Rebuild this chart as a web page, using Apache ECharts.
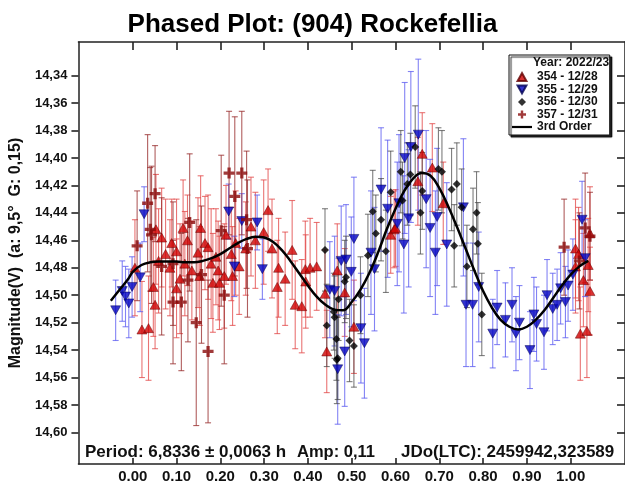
<!DOCTYPE html>
<html><head><meta charset="utf-8">
<script src="https://cdn.jsdelivr.net/npm/echarts@6/dist/echarts.min.js"></script>
<style>html,body{margin:0;padding:0;background:#fff}#c{width:625px;height:484px}</style>
</head><body><div id="c"></div>
<script>
// ---- data ----
const xTicks = [0,0.1,0.2,0.3,0.4,0.5,0.6,0.7,0.8,0.9,1.0];
const yTicks = [14.34,14.36,14.38,14.40,14.42,14.44,14.46,14.48,14.50,14.52,14.54,14.56,14.58,14.60];

const p354 = [0.005,0.021,0.036,0.047,0.051,0.053,0.059,0.066,0.075,0.085,0.089,0.100,0.100,0.108,0.115,0.119,0.125,0.135,0.149,0.153,0.155,0.165,0.172,0.179,0.183,0.190,0.195,0.198,0.209,0.213,0.225,0.228,0.235,0.243,0.258,0.270,0.280,0.299,0.309,0.318,0.330,0.333,0.348,0.364,0.371,0.386,0.394,0.395,0.405,0.420,0.439,0.443,0.467,0.484,0.505,0.589,0.597,0.600,0.651,0.661,0.684,0.709,1.011,1.011,1.018,1.022,1.029,1.037,1.040,1.044,1.044];
const m354 = [14.480,14.525,14.524,14.494,14.507,14.452,14.475,14.458,14.470,14.480,14.462,14.468,14.495,14.488,14.451,14.477,14.460,14.482,14.469,14.486,14.451,14.462,14.465,14.477,14.491,14.472,14.482,14.491,14.486,14.456,14.470,14.486,14.462,14.479,14.466,14.450,14.460,14.454,14.438,14.466,14.494,14.480,14.488,14.467,14.507,14.508,14.481,14.490,14.480,14.479,14.499,14.541,14.482,14.498,14.523,14.456,14.452,14.451,14.417,14.397,14.407,14.433,14.479,14.466,14.470,14.528,14.489,14.526,14.478,14.497,14.455];
const e354 = [0.035,0.035,0.038,0.036,0.032,0.040,0.038,0.036,0.040,0.035,0.032,0.038,0.036,0.040,0.035,0.038,0.033,0.036,0.040,0.036,0.038,0.034,0.038,0.040,0.036,0.035,0.036,0.034,0.038,0.036,0.034,0.036,0.038,0.035,0.034,0.036,0.035,0.038,0.030,0.036,0.034,0.036,0.034,0.036,0.032,0.034,0.035,0.034,0.036,0.032,0.032,0.030,0.034,0.032,0.034,0.028,0.028,0.028,0.032,0.030,0.032,0.030,0.034,0.036,0.034,0.034,0.034,0.034,0.034,0.032,0.034];

const p355 = [-0.039,-0.024,-0.0165,-0.009,-0.0015,0.017,0.026,0.219,0.232,0.249,0.284,0.296,0.450,0.461,0.468,0.476,0.484,0.487,0.499,0.505,0.521,0.529,0.544,0.552,0.567,0.582,0.604,0.608,0.619,0.621,0.630,0.635,0.652,0.670,0.679,0.691,0.695,0.717,0.755,0.761,0.776,0.790,0.822,0.832,0.851,0.866,0.875,0.883,0.907,0.916,0.922,0.939,0.946,0.959,0.969,0.977,0.988,0.994,1.005,1.026,1.033];
const m355 = [14.511,14.497,14.501,14.506,14.494,14.487,14.441,14.439,14.479,14.446,14.447,14.481,14.496,14.497,14.554,14.475,14.541,14.474,14.483,14.459,14.524,14.535,14.469,14.481,14.423,14.437,14.448,14.433,14.463,14.400,14.444,14.392,14.383,14.430,14.451,14.469,14.443,14.463,14.436,14.507,14.507,14.494,14.528,14.509,14.518,14.507,14.528,14.520,14.540,14.514,14.521,14.527,14.500,14.510,14.507,14.495,14.505,14.493,14.485,14.445,14.473];
const e355 = [0.022,0.022,0.022,0.025,0.022,0.025,0.020,0.020,0.022,0.020,0.020,0.022,0.035,0.040,0.040,0.040,0.040,0.040,0.040,0.045,0.040,0.040,0.045,0.045,0.045,0.050,0.045,0.050,0.050,0.055,0.050,0.055,0.055,0.050,0.050,0.045,0.050,0.045,0.050,0.045,0.045,0.040,0.025,0.027,0.027,0.027,0.027,0.027,0.028,0.027,0.027,0.027,0.026,0.026,0.026,0.026,0.026,0.026,0.026,0.028,0.028];

const p356 = [0.439,0.443,0.459,0.461,0.465,0.466,0.468,0.470,0.484,0.487,0.495,0.505,0.520,0.537,0.548,0.555,0.567,0.578,0.589,0.612,0.616,0.627,0.634,0.645,0.657,0.661,0.698,0.706,0.728,0.734,0.740,0.751,0.763,0.777,0.785,0.788,0.797];
const m356 = [14.467,14.522,14.512,14.516,14.532,14.547,14.546,14.503,14.490,14.487,14.533,14.537,14.500,14.471,14.439,14.455,14.445,14.468,14.425,14.410,14.431,14.419,14.412,14.392,14.440,14.424,14.408,14.410,14.423,14.464,14.419,14.436,14.479,14.452,14.440,14.4625,14.514];
const e356 = [0.030,0.030,0.028,0.030,0.030,0.032,0.030,0.030,0.030,0.030,0.030,0.030,0.028,0.030,0.030,0.028,0.030,0.030,0.030,0.030,0.028,0.030,0.030,0.030,0.030,0.028,0.030,0.030,0.030,0.030,0.030,0.028,0.030,0.030,0.030,0.030,0.030];

const p357 = [0.010,0.034,0.040,0.043,0.051,0.066,0.092,0.092,0.111,0.126,0.130,0.145,0.157,0.172,0.202,0.209,0.220,0.233,0.249,0.260,0.262,0.985,1.020,1.033,1.044];
const m357 = [14.464,14.433,14.452,14.456,14.426,14.479,14.477,14.505,14.505,14.489,14.447,14.520,14.485,14.541,14.453,14.500,14.411,14.428,14.411,14.445,14.466,14.465,14.475,14.451,14.457];
const e357 = [0.040,0.050,0.045,0.050,0.035,0.050,0.045,0.045,0.050,0.045,0.050,0.075,0.050,0.052,0.055,0.050,0.045,0.058,0.045,0.050,0.050,0.035,0.035,0.040,0.032];

const fitPhase = [-0.05,-0.03,-0.01,0.00,0.02,0.04,0.06,0.08,0.10,0.12,0.14,0.16,0.18,0.20,0.22,0.24,0.26,0.28,0.30,0.32,0.34,0.36,0.38,0.40,0.42,0.44,0.46,0.48,0.50,0.52,0.54,0.56,0.58,0.60,0.62,0.64,0.66,0.68,0.70,0.72,0.74,0.76,0.78,0.80,0.82,0.84,0.86,0.88,0.90,0.92,0.94,0.96,0.98,1.00,1.02,1.04];
const fitMag = [14.504,14.496,14.488,14.483,14.478,14.476,14.4755,14.4755,14.4755,14.476,14.476,14.475,14.473,14.470,14.466,14.462,14.459,14.4575,14.458,14.461,14.467,14.475,14.484,14.493,14.501,14.507,14.5105,14.511,14.505,14.496,14.484,14.469,14.452,14.437,14.424,14.415,14.411,14.413,14.422,14.435,14.450,14.466,14.482,14.497,14.509,14.518,14.523,14.525,14.523,14.518,14.511,14.502,14.493,14.485,14.479,14.475];

const names = ['354 - 12/28','355 - 12/29','356 - 12/30','357 - 12/31','3rd Order'];

// ---- build ----
const pts = (p,m) => p.map((v,i)=>[v,m[i]]);
const bars = (p,m,e) => p.map((v,i)=>[v,m[i]-e[i],m[i]+e[i]]);
function errRender(color){
  return function(params, api){
    const x = api.value(0);
    const a = api.coord([x, api.value(1)]);
    const b = api.coord([x, api.value(2)]);
    const w = 3;
    const st = {stroke: color, lineWidth: 1.1};
    return {type:'group', children:[
      {type:'line', shape:{x1:a[0],y1:a[1],x2:b[0],y2:b[1]}, style:st},
      {type:'line', shape:{x1:a[0]-w,y1:a[1],x2:a[0]+w,y2:a[1]}, style:st},
      {type:'line', shape:{x1:b[0]-w,y1:b[1],x2:b[0]+w,y2:b[1]}, style:st}
    ]};
  };
}
const errSeries = (data,color) => ({type:'custom', renderItem: errRender(color), data: data, silent:true, legendHoverLink:false, encode:{x:0,y:[1,2]}, z:1});

const upTri = 'path://M5,0L10,9L0,9Z';
const downTri = 'path://M0,0L10,0L5,9Z';
const diamondP = 'path://M5,0L10,5L5,10L0,5Z';
const plusPath = 'path://M3.5,0h3v3.5h3.5v3h-3.5v3.5h-3v-3.5h-3.5v-3h3.5z';
const linePath = 'path://M0,0h20v2.2h-20z';
const xMin = -0.124, xMax = 1.124, yMin = 14.3155, yMax = 14.623;
const FONT = 'Liberation Sans, Arial, sans-serif';
const AX = {show:true, onZero:false, lineStyle:{color:'#222', width:1.5}};
const TK = {color:'#222', width:1.6};

const chart = echarts.init(document.getElementById('c'), null, {renderer:'canvas'});
chart.setOption({
  animation:false,
  backgroundColor:'#fff',
  title:{text:'Phased Plot: (904) Rockefellia', left:'center', top:7,
    textStyle:{fontFamily:FONT, fontWeight:'bold', fontSize:26, color:'#000'}},
  grid:{left:74, top:42, width:553, height:427, show:false},
  xAxis:[
    {type:'value', min:xMin, max:xMax, position:'bottom',
     axisLine:AX, splitLine:{show:false},
     axisTick:{show:true, inside:true, length:6, lineStyle:TK, customValues:xTicks},
     axisLabel:{customValues:xTicks, margin:5, formatter:v=>v.toFixed(2), fontFamily:FONT, fontWeight:'bold', fontSize:15, color:'#111'}},
    {type:'value', min:xMin, max:xMax, position:'top',
     axisLine:AX, splitLine:{show:false},
     axisTick:{show:true, inside:true, length:8, lineStyle:TK, customValues:xTicks},
     axisLabel:{show:false}}
  ],
  yAxis:[
    {type:'value', min:yMin, max:yMax, inverse:true, position:'left',
     axisLine:AX, splitLine:{show:false},
     axisTick:{show:true, inside:false, length:7, lineStyle:TK, customValues:yTicks},
     axisLabel:{customValues:yTicks, margin:11, formatter:v=>v.toFixed(2).replace('.',','), fontFamily:FONT, fontWeight:'bold', fontSize:13, color:'#111'},
     name:'Magnitude(V)  (a: 9,5°  G: 0,15)', nameLocation:'middle', nameRotate:90, nameGap:52,
     nameTextStyle:{fontFamily:FONT, fontWeight:'bold', fontSize:16, color:'#111'}},
    {type:'value', min:yMin, max:yMax, inverse:true, position:'right',
     axisLine:AX, splitLine:{show:false},
     axisTick:{show:true, inside:true, length:8, lineStyle:TK, customValues:yTicks},
     axisLabel:{show:false}}
  ],
  legend:{
    orient:'vertical', left:509, top:55, data:[
      {name:names[0], icon:upTri},
      {name:names[1], icon:downTri},
      {name:names[2], icon:diamondP},
      {name:names[3], icon:plusPath},
      {name:names[4], icon:linePath}
    ],
    padding:[16,12,2,3], itemGap:0.5, itemWidth:20, itemHeight:8, itemTextGap:2, symbolKeepAspect:true,
    backgroundColor:'#fff', borderColor:'#111', borderWidth:1, borderRadius:0,
    shadowColor:'rgba(0,0,0,0.85)', shadowBlur:1, shadowOffsetX:2, shadowOffsetY:2,
    textStyle:{fontFamily:FONT, fontWeight:'bold', fontSize:12, lineHeight:12, color:'#111'},
    selectedMode:false
  },
  graphic:[
    {type:'text', left:533, top:57, z:100, style:{text:'Year: 2022/23', font:'bold 12px '+FONT, fill:'#111'}},
    {type:'text', left:85, top:444, z:100, style:{text:'Period: 6,8336 ± 0,0063 h', font:'bold 17px '+FONT, fill:'#111'}},
    {type:'text', left:297, top:444, z:100, style:{text:'Amp: 0,11', font:'bold 16.5px '+FONT, fill:'#111'}},
    {type:'text', left:401, top:444, z:100, style:{text:'JDo(LTC): 2459942,323589', font:'bold 17px '+FONT, fill:'#111'}}
  ],
  series:[
    errSeries(bars(p354,m354,e354),'rgba(225,70,70,0.75)'),
    errSeries(bars(p355,m355,e355),'rgba(90,90,240,0.75)'),
    errSeries(bars(p356,m356,e356),'rgba(70,70,70,0.7)'),
    errSeries(bars(p357,m357,e357),'rgba(150,40,40,0.75)'),
    {name:names[0], type:'scatter', data:pts(p354,m354), symbol:upTri, symbolSize:[10,9],
     itemStyle:{color:'#d00000', borderColor:'#600000', borderWidth:0.6}, z:3},
    {name:names[1], type:'scatter', data:pts(p355,m355), symbol:downTri, symbolSize:[10,9],
     itemStyle:{color:'#0000c0', borderColor:'#000050', borderWidth:0.6}, z:3},
    {name:names[2], type:'scatter', data:pts(p356,m356), symbol:diamondP, symbolSize:8,
     itemStyle:{color:'#000'}, z:3},
    {name:names[3], type:'scatter', data:pts(p357,m357), symbol:plusPath, symbolSize:11,
     itemStyle:{color:'#8a0a0a'}, z:3},
    {name:names[4], type:'line', data:pts(fitPhase,fitMag), smooth:0.4, symbol:'none', showSymbol:false,
     lineStyle:{color:'#000', width:2.5}, itemStyle:{color:'#000'}, z:4}
  ]
});
</script></body></html>
